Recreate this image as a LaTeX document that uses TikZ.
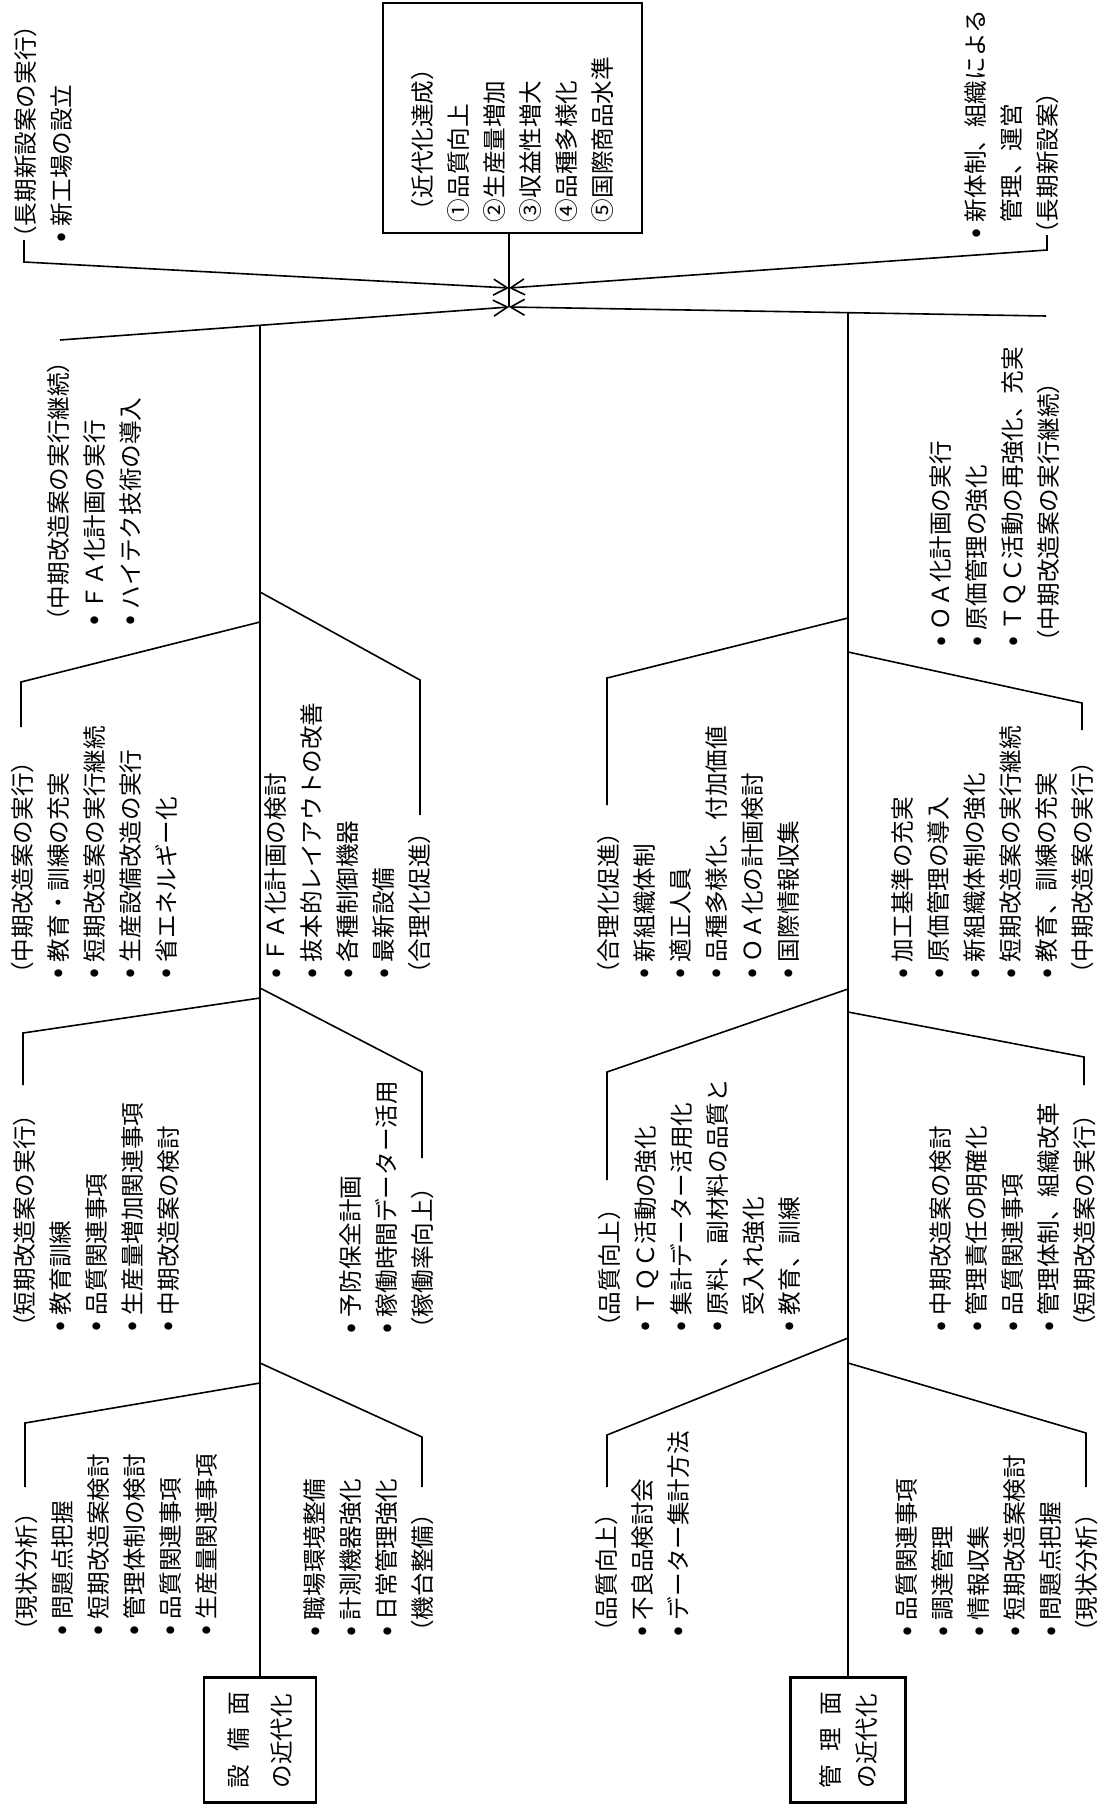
\documentclass[tikz,border=0pt]{standalone}
\usepackage{fontspec}
\newfontfamily\jp{Noto Sans CJK JP}
\usetikzlibrary{arrows.meta,calc}
\newcommand\bu{\makebox[1em][c]{\raisebox{-0.02em}{\scalebox{1.25}{•}}}}
\begin{document}
\begin{tikzpicture}[x=0.5pt,y=-0.5pt,
  blk/.style={rotate=90, anchor=north west, inner sep=0pt, align=left,
    font=\jp\fontsize{11.8}{18}\selectfont},
  ln/.style={line width=0.8pt},
  arr/.style={line width=0.8pt, -{Straight Barb[length=7pt,width=8pt]}},
  bigbox/.style={rotate=90, draw, line width=1.1pt, align=left, inner sep=0pt,
    font=\jp\fontsize{11.8}{18}\selectfont}]
\useasboundingbox (0,0) rectangle (1102,1804);
\fill[white] (0,0) rectangle (1102,1804);

% ---------- head box ----------
\node[bigbox, text width=104pt, inner xsep=5.5pt, minimum width=115pt, minimum height=129.5pt]
  (head) at (512.5,118)
  {（近代化達成）\\①品質向上\\②生産量増加\\③収益性増大\\④品種多様化\\⑤国際商品水準};

% ---------- bottom boxes ----------
\node[bigbox, minimum width=62.5pt, minimum height=56pt, font=\jp\fontsize{11.8}{21.5}\selectfont]
  (box1) at (260,1740) {設\kern0.55em 備\kern0.55em 面\\の近代化};
\node[bigbox, minimum width=62.5pt, minimum height=57.5pt]
  (box2) at (848,1740) {管\kern0.55em 理\kern0.55em 面\\の近代化};

% ---------- text blocks ----------
\node[blk] (tl) at (13.5,250) {（長期新設案の実行）\\\bu 新工場の設立};
\node[blk] (tr) at (964.5,246) {\bu 新体制、組織による\\　管理、運営\\（長期新設案）};

\node[blk] (l4) at (46.5,633) {（中期改造案の実行継続）\\\bu ＦＡ化計画の実行\\\bu ハイテク技術の導入};
\node[blk] (r4p) at (929.5,654) {\bu ＯＡ化計画の実行\\\bu 原価管理の強化\\\bu ＴＱＣ活動の再強化、充実\\（中期改造案の実行継続）};

\node[blk] (l3) at (10.5,986) {（中期改造案の実行）\\\bu 教育・訓練の充実\\\bu 短期改造案の実行継続\\\bu 生産設備改造の実行\\\bu 省エネルギー化};
\node[blk] (r3) at (264.5,986) {\bu ＦＡ化計画の検討\\\bu 抜本的レイアウトの改善\\\bu 各種制御機器\\\bu 最新設備\\（合理化促進）};

\node[blk] (l2) at (12.5,1339) {（短期改造案の実行）\\\bu 教育訓練\\\bu 品質関連事項\\\bu 生産量増加関連事項\\\bu 中期改造案の検討};
\node[blk] (r2) at (339.5,1341) {\bu 予防保全計画\\\bu 稼働時間データー活用\\（稼働率向上）};

\node[blk] (l1) at (14.5,1643) {（現状分析）\\\bu 問題点把握\\\bu 短期改造案検討\\\bu 管理体制の検討\\\bu 品質関連事項\\\bu 生産量関連事項};
\node[blk] (r1) at (303.5,1644) {\bu 職場環境整備\\\bu 計測機器強化\\\bu 日常管理強化\\（機台整備）};

\node[blk] (l3p) at (596.5,986) {（合理化促進）\\\bu 新組織体制\\\bu 適正人員\\\bu 品種多様化、付加価値\\\bu ＯＡ化の計画検討\\\bu 国際情報収集};
\node[blk] (r3p) at (891.5,986) {\bu 加工基準の充実\\\bu 原価管理の導入\\\bu 新組織体制の強化\\\bu 短期改造案の実行継続\\\bu 教育、訓練の充実\\（中期改造案の実行）};

\node[blk] (l2p) at (597.5,1339) {（品質向上）\\\bu ＴＱＣ活動の強化\\\bu 集計データー活用化\\\bu 原料、副材料の品質と\\　受入れ強化\\\bu 教育、訓練};
\node[blk] (r2p) at (929.5,1339) {\bu 中期改造案の検討\\\bu 管理責任の明確化\\\bu 品質関連事項\\\bu 管理体制、組織改革\\（短期改造案の実行）};

\node[blk] (l1p) at (594.5,1644) {（品質向上）\\\bu 不良品検討会\\\bu データー集計方法};
\node[blk] (r1p) at (895.5,1644) {\bu 品質関連事項\\\bu 調達管理\\\bu 情報収集\\\bu 短期改造案検討\\\bu 問題点把握\\（現状分析）};

% ---------- convergence points ----------
\coordinate (conv1) at (509,288);
\coordinate (conv2) at (509,307);
\draw[ln] (head.west -| conv2) -- (conv2);

% top long-term lines
\coordinate (tlA) at (24,240);
\coordinate (tlB) at (24,262);
\draw[arr] (tlA) -- (tlB) -- (conv1);
\coordinate (trA) at (1047,235);
\coordinate (trB) at (1047,250);
\draw[arr] (trA) -- (trB) -- (conv1);

% main lines into the head
\coordinate (l4e) at (60,340);
\coordinate (r4e) at (1046,316);
\draw[arr] (l4e) -- (conv2);
\draw[arr] (r4e) -- (conv2);
\coordinate (ltTop) at ($(conv2)!0.5546!(l4e)$);
\coordinate (rtTop) at ($(conv2)!0.6313!(r4e)$);

% trunks
\draw[ln] (box1.east) -- (ltTop);
\draw[ln] (box2.east) -- (rtTop);

% left trunk branches
\coordinate (a1) at (260,592);  \coordinate (a1c) at (420,680);  \coordinate (a1e) at (420,815);
\coordinate (a2) at (260,622);  \coordinate (a2c) at (21,682);   \coordinate (a2e) at (21,727);
\coordinate (b1) at (260,988);  \coordinate (b1c) at (422,1072); \coordinate (b1e) at (422,1158);
\coordinate (b2) at (260,998);  \coordinate (b2c) at (23,1033);  \coordinate (b2e) at (23,1085);
\coordinate (c1) at (260,1363); \coordinate (c1c) at (422,1437); \coordinate (c1e) at (422,1487);
\coordinate (c2) at (260,1383); \coordinate (c2c) at (25,1423);  \coordinate (c2e) at (25,1487);
\foreach \p in {a1,a2,b1,b2,c1,c2}
  \draw[ln] (\p) -- (\p c) -- (\p e);

% right trunk branches
\coordinate (d1) at (848,618);  \coordinate (d1c) at (607,678);  \coordinate (d1e) at (607,805);
\coordinate (d2) at (848,652);  \coordinate (d2c) at (1082,703); \coordinate (d2e) at (1082,730);
\coordinate (e1) at (848,989);  \coordinate (e1c) at (607,1072); \coordinate (e1e) at (607,1180);
\coordinate (e2) at (848,1012); \coordinate (e2c) at (1084,1057);\coordinate (e2e) at (1084,1085);
\coordinate (f1) at (848,1338); \coordinate (f1c) at (607,1435); \coordinate (f1e) at (607,1487);
\coordinate (f2) at (848,1363); \coordinate (f2c) at (1086,1433);\coordinate (f2e) at (1086,1487);
\foreach \p in {d1,d2,e1,e2,f1,f2}
  \draw[ln] (\p) -- (\p c) -- (\p e);
\end{tikzpicture}
\end{document}
